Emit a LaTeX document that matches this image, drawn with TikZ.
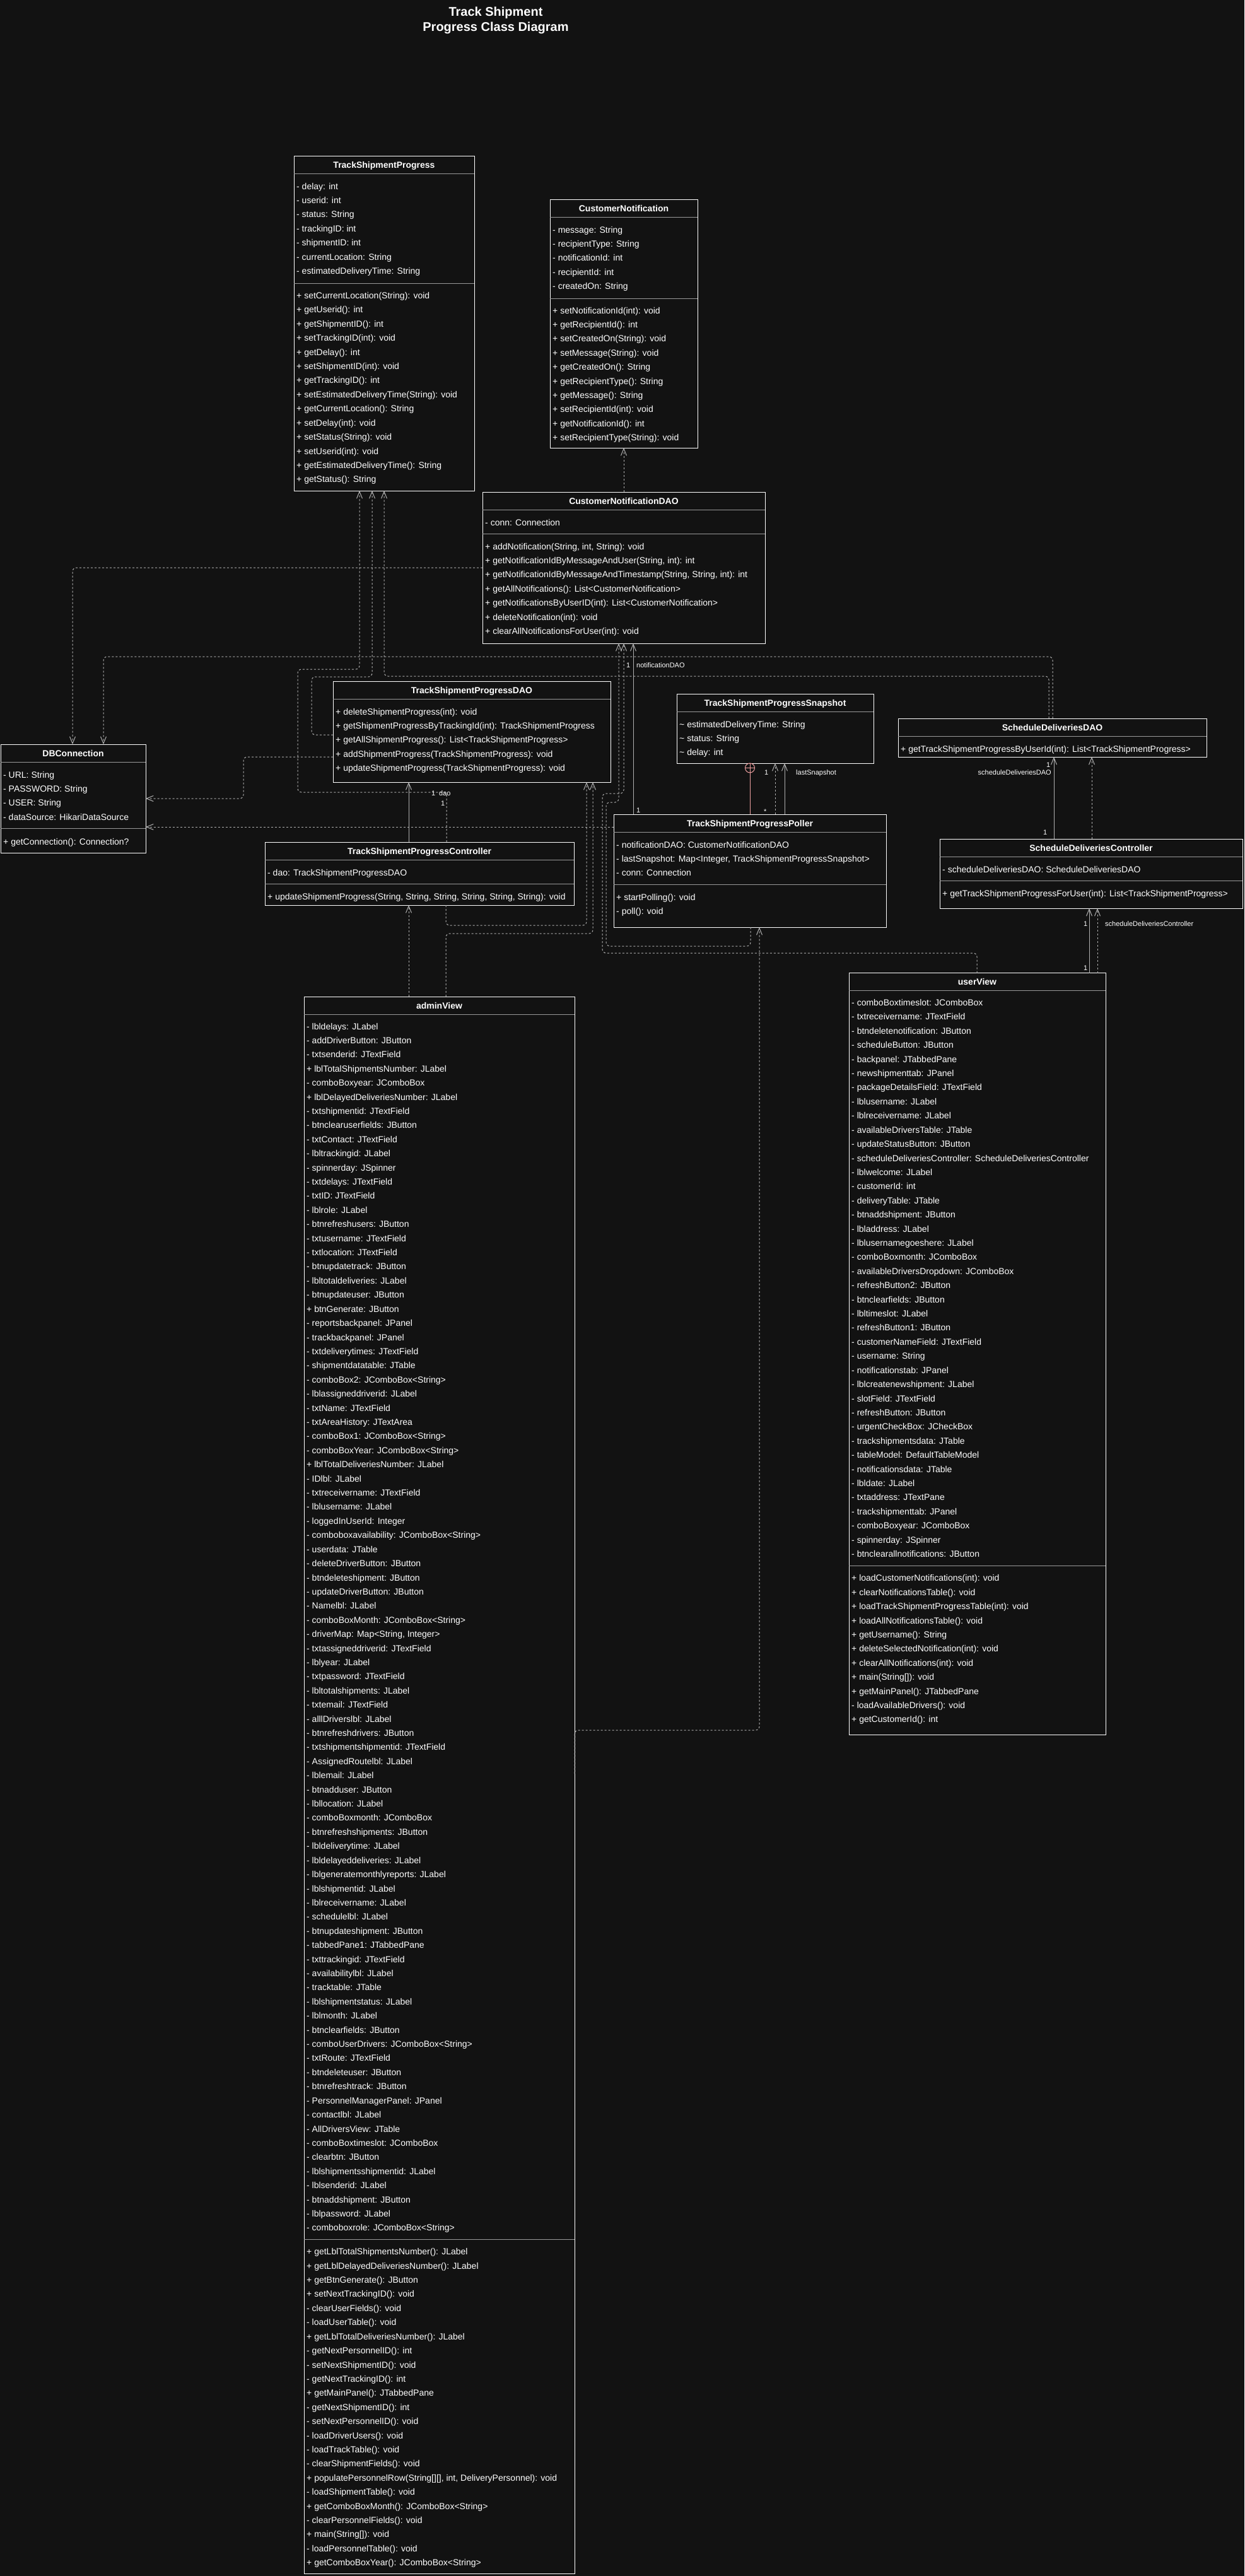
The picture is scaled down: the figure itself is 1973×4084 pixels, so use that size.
\documentclass[tikz,border=0pt]{standalone}
\usepackage{fontspec}
\setmainfont{Liberation Sans}
\usetikzlibrary{arrows.meta}

\definecolor{bg}{HTML}{121212}
\definecolor{edge}{HTML}{B0B0B0}
\definecolor{rule}{HTML}{999999}
\definecolor{nest}{HTML}{EFA0A0}

\tikzset{
  classbox/.style={draw=white, fill=bg, line width=1pt, inner sep=0pt, outer sep=0pt, anchor=north west},
  classtitle/.style={text=white, font=\fontsize{14}{16}\selectfont\bfseries, anchor=base, inner sep=0pt},
  member/.style={text=white, font=\fontsize{14}{16}\selectfont, anchor=base west, inner sep=0pt},
  divider/.style={draw=rule, line width=1pt},
  openhead/.style={-{Straight Barb[length=11pt,width=9pt]}},
  dep/.style={draw=edge, line width=1pt, dash pattern=on 3pt off 3pt, rounded corners=6pt, openhead},
  assoc/.style={draw=edge, line width=1pt, openhead},
  nested/.style={draw=nest, line width=1pt},
  elabel/.style={text=white, font=\fontsize{11}{13}\selectfont, inner sep=0pt, anchor=base west},
  bigtitle/.style={text=white, font=\fontsize{20}{24}\selectfont\bfseries, anchor=base, inner sep=0pt},
}

% class frame: name, left, top, right, bottom, title
\newcommand{\umlbox}[6]{%
  \node[classbox, minimum width={(#4-#2)*1pt}, minimum height={(#5-#3)*1pt}] (#1) at (#2,#3) {};
  \node[classtitle] (#1-title) at ({(#2+#4)/2},{#3+19}) {#6};
  \draw[divider] (#2,{#3+28}) -- (#4,{#3+28});
}
% compartment separator: left, right, y
\newcommand{\umlrule}[3]{\draw[divider] (#1,#3) -- (#2,#3);}
% member rows: prefix, x, first baseline, items
\newcommand{\umlrows}[4]{%
  \foreach \t [count=\i] in {#4} {\node[member] (#1-\i) at (#2,{#3+(\i-1)*22.41}) {\t};}
}

\begin{document}
\begin{tikzpicture}[x=1pt,y=-1pt]
\useasboundingbox (0,0) rectangle (1973,4084);
\fill[bg] (0,0) rectangle (1973,4084);

% heading
\node[bigtitle] (title-a) at (786,26) {Track Shipment};
\node[bigtitle] (title-b) at (786,50) {Progress Class Diagram};

% ---------- TrackShipmentProgress
\umlbox{tsp}{466}{247}{752}{778}{TrackShipmentProgress}
\umlrows{tsp-a}{470}{300}{{- delay: int},{- userid: int},{- status: String},{- trackingID: int},{- shipmentID: int},{- currentLocation: String},{- estimatedDeliveryTime: String}}
\umlrule{466}{752}{449}
\umlrows{tsp-m}{470}{473.5}{{+ setCurrentLocation(String): void},{+ getUserid(): int},{+ getShipmentID(): int},{+ setTrackingID(int): void},{+ getDelay(): int},{+ setShipmentID(int): void},{+ getTrackingID(): int},{+ setEstimatedDeliveryTime(String): void},{+ getCurrentLocation(): String},{+ setDelay(int): void},{+ setStatus(String): void},{+ setUserid(int): void},{+ getEstimatedDeliveryTime(): String},{+ getStatus(): String}}

% ---------- CustomerNotification
\umlbox{cn}{872}{316}{1106}{710}{CustomerNotification}
\umlrows{cn-a}{876}{369}{{- message: String},{- recipientType: String},{- notificationId: int},{- recipientId: int},{- createdOn: String}}
\umlrule{872}{1106}{473}
\umlrows{cn-m}{876}{497}{{+ setNotificationId(int): void},{+ getRecipientId(): int},{+ setCreatedOn(String): void},{+ setMessage(String): void},{+ getCreatedOn(): String},{+ getRecipientType(): String},{+ getMessage(): String},{+ setRecipientId(int): void},{+ getNotificationId(): int},{+ setRecipientType(String): void}}

% ---------- CustomerNotificationDAO
\umlbox{cndao}{765}{780}{1213}{1020}{CustomerNotificationDAO}
\umlrows{cndao-a}{769}{833}{{- conn: Connection}}
\umlrule{765}{1213}{846.5}
\umlrows{cndao-m}{769}{871}{{+ addNotification(String, int, String): void},{+ getNotificationIdByMessageAndUser(String, int): int},{+ getNotificationIdByMessageAndTimestamp(String, String, int): int},{+ getAllNotifications(): List<CustomerNotification>},{+ getNotificationsByUserID(int): List<CustomerNotification>},{+ deleteNotification(int): void},{+ clearAllNotificationsForUser(int): void}}

% ---------- DBConnection
\umlbox{db}{1}{1180}{231}{1352}{DBConnection}
\umlrows{db-a}{5}{1233}{{- URL: String},{- PASSWORD: String},{- USER: String},{- dataSource: HikariDataSource}}
\umlrule{1}{231}{1313.5}
\umlrows{db-m}{5}{1339}{{+ getConnection(): Connection?}}

% ---------- TrackShipmentProgressDAO
\umlbox{tspdao}{528}{1080}{968}{1240}{TrackShipmentProgressDAO}
\umlrows{tspdao-m}{532}{1133}{{+ deleteShipmentProgress(int): void},{+ getShipmentProgressByTrackingId(int): TrackShipmentProgress},{+ getAllShipmentProgress(): List<TrackShipmentProgress>},{+ addShipmentProgress(TrackShipmentProgress): void},{+ updateShipmentProgress(TrackShipmentProgress): void}}

% ---------- TrackShipmentProgressSnapshot
\umlbox{snap}{1073}{1100}{1385}{1210}{TrackShipmentProgressSnapshot}
\umlrows{snap-a}{1077}{1153}{{\textasciitilde{} estimatedDeliveryTime: String},{\textasciitilde{} status: String},{\textasciitilde{} delay: int}}

% ---------- ScheduleDeliveriesDAO
\umlbox{sddao}{1424}{1139}{1913}{1200}{ScheduleDeliveriesDAO}
\umlrows{sddao-m}{1428}{1192}{{+ getTrackShipmentProgressByUserId(int): List<TrackShipmentProgress>}}

% ---------- TrackShipmentProgressPoller
\umlbox{poller}{973}{1291}{1405}{1470}{TrackShipmentProgressPoller}
\umlrows{poller-a}{977}{1344}{{- notificationDAO: CustomerNotificationDAO},{- lastSnapshot: Map<Integer, TrackShipmentProgressSnapshot>},{- conn: Connection}}
\umlrule{973}{1405}{1402}
\umlrows{poller-m}{977}{1427}{{+ startPolling(): void},{- poll(): void}}

% ---------- ScheduleDeliveriesController
\umlbox{sdc}{1490}{1330}{1970}{1440}{ScheduleDeliveriesController}
\umlrows{sdc-a}{1494}{1383}{{- scheduleDeliveriesDAO: ScheduleDeliveriesDAO}}
\umlrule{1490}{1970}{1396.5}
\umlrows{sdc-m}{1494}{1421.5}{{+ getTrackShipmentProgressForUser(int): List<TrackShipmentProgress>}}

% ---------- TrackShipmentProgressController
\umlbox{tspc}{420}{1335}{910}{1435}{TrackShipmentProgressController}
\umlrows{tspc-a}{424}{1388}{{- dao: TrackShipmentProgressDAO}}
\umlrule{420}{910}{1401}
\umlrows{tspc-m}{424}{1426}{{+ updateShipmentProgress(String, String, String, String, String, String): void}}

% ---------- userView
\umlbox{user}{1346}{1542.5}{1753}{2750}{userView}
\umlrows{user-a}{1350}{1594.5}{{- comboBoxtimeslot: JComboBox},{- txtreceivername: JTextField},{- btndeletenotification: JButton},{- scheduleButton: JButton},{- backpanel: JTabbedPane},{- newshipmenttab: JPanel},{- packageDetailsField: JTextField},{- lblusername: JLabel},{- lblreceivername: JLabel},{- availableDriversTable: JTable},{- updateStatusButton: JButton},{- scheduleDeliveriesController: ScheduleDeliveriesController},{- lblwelcome: JLabel},{- customerId: int},{- deliveryTable: JTable},{- btnaddshipment: JButton},{- lbladdress: JLabel},{- lblusernamegoeshere: JLabel},{- comboBoxmonth: JComboBox},{- availableDriversDropdown: JComboBox},{- refreshButton2: JButton},{- btnclearfields: JButton},{- lbltimeslot: JLabel},{- refreshButton1: JButton},{- customerNameField: JTextField},{- username: String},{- notificationstab: JPanel},{- lblcreatenewshipment: JLabel},{- slotField: JTextField},{- refreshButton: JButton},{- urgentCheckBox: JCheckBox},{- trackshipmentsdata: JTable},{- tableModel: DefaultTableModel},{- notificationsdata: JTable},{- lbldate: JLabel},{- txtaddress: JTextPane},{- trackshipmenttab: JPanel},{- comboBoxyear: JComboBox},{- spinnerday: JSpinner},{- btnclearallnotifications: JButton}}
\umlrule{1346}{1753}{2482.7}
\umlrows{user-m}{1350}{2506.8}{{+ loadCustomerNotifications(int): void},{+ clearNotificationsTable(): void},{+ loadTrackShipmentProgressTable(int): void},{+ loadAllNotificationsTable(): void},{+ getUsername(): String},{+ deleteSelectedNotification(int): void},{+ clearAllNotifications(int): void},{+ main(String[]): void},{+ getMainPanel(): JTabbedPane},{- loadAvailableDrivers(): void},{+ getCustomerId(): int}}

% ---------- adminView
\umlbox{admin}{482}{1580}{911}{4080}{adminView}
\umlrows{admin-a}{486}{1632}{{- lbldelays: JLabel},{- addDriverButton: JButton},{- txtsenderid: JTextField},{+ lblTotalShipmentsNumber: JLabel},{- comboBoxyear: JComboBox},{+ lblDelayedDeliveriesNumber: JLabel},{- txtshipmentid: JTextField},{- btnclearuserfields: JButton},{- txtContact: JTextField},{- lbltrackingid: JLabel},{- spinnerday: JSpinner},{- txtdelays: JTextField},{- txtID: JTextField},{- lblrole: JLabel},{- btnrefreshusers: JButton},{- txtusername: JTextField},{- txtlocation: JTextField},{- btnupdatetrack: JButton},{- lbltotaldeliveries: JLabel},{- btnupdateuser: JButton},{+ btnGenerate: JButton},{- reportsbackpanel: JPanel},{- trackbackpanel: JPanel},{- txtdeliverytimes: JTextField},{- shipmentdatatable: JTable},{- comboBox2: JComboBox<String>},{- lblassigneddriverid: JLabel},{- txtName: JTextField},{- txtAreaHistory: JTextArea},{- comboBox1: JComboBox<String>},{- comboBoxYear: JComboBox<String>},{+ lblTotalDeliveriesNumber: JLabel},{- IDlbl: JLabel},{- txtreceivername: JTextField},{- lblusername: JLabel},{- loggedInUserId: Integer},{- comboboxavailability: JComboBox<String>},{- userdata: JTable},{- deleteDriverButton: JButton},{- btndeleteshipment: JButton},{- updateDriverButton: JButton},{- Namelbl: JLabel},{- comboBoxMonth: JComboBox<String>},{- driverMap: Map<String, Integer>},{- txtassigneddriverid: JTextField},{- lblyear: JLabel},{- txtpassword: JTextField},{- lbltotalshipments: JLabel},{- txtemail: JTextField},{- alllDriverslbl: JLabel},{- btnrefreshdrivers: JButton},{- txtshipmentshipmentid: JTextField},{- AssignedRoutelbl: JLabel},{- lblemail: JLabel},{- btnadduser: JButton},{- lbllocation: JLabel},{- comboBoxmonth: JComboBox},{- btnrefreshshipments: JButton},{- lbldeliverytime: JLabel},{- lbldelayeddeliveries: JLabel},{- lblgeneratemonthlyreports: JLabel},{- lblshipmentid: JLabel},{- lblreceivername: JLabel},{- schedulelbl: JLabel},{- btnupdateshipment: JButton},{- tabbedPane1: JTabbedPane},{- txttrackingid: JTextField},{- availabilitylbl: JLabel},{- tracktable: JTable},{- lblshipmentstatus: JLabel},{- lblmonth: JLabel},{- btnclearfields: JButton},{- comboUserDrivers: JComboBox<String>},{- txtRoute: JTextField},{- btndeleteuser: JButton},{- btnrefreshtrack: JButton},{- PersonnelManagerPanel: JPanel},{- contactlbl: JLabel},{- AllDriversView: JTable},{- comboBoxtimeslot: JComboBox},{- clearbtn: JButton},{- lblshipmentsshipmentid: JLabel},{- lblsenderid: JLabel},{- btnaddshipment: JButton},{- lblpassword: JLabel},{- comboboxrole: JComboBox<String>}}
\umlrule{482}{911}{3550.5}
\umlrows{admin-m}{486}{3574.7}{{+ getLblTotalShipmentsNumber(): JLabel},{+ getLblDelayedDeliveriesNumber(): JLabel},{+ getBtnGenerate(): JButton},{+ setNextTrackingID(): void},{- clearUserFields(): void},{- loadUserTable(): void},{+ getLblTotalDeliveriesNumber(): JLabel},{- getNextPersonnelID(): int},{- setNextShipmentID(): void},{- getNextTrackingID(): int},{+ getMainPanel(): JTabbedPane},{- getNextShipmentID(): int},{- setNextPersonnelID(): void},{- loadDriverUsers(): void},{- loadTrackTable(): void},{- clearShipmentFields(): void},{+ populatePersonnelRow(String[][], int, DeliveryPersonnel): void},{- loadShipmentTable(): void},{+ getComboBoxMonth(): JComboBox<String>},{- clearPersonnelFields(): void},{+ main(String[]): void},{- loadPersonnelTable(): void},{+ getComboBoxYear(): JComboBox<String>}}

% ================= connectors =================
% DAO -> entity
\draw[dep] ([xshift=224pt]cndao.north west) -- ([xshift=117pt]cn.south west);
% DAOs -> DBConnection
\draw[dep] ([yshift=-120pt]cndao.north west) -| ([xshift=114pt]db.north west);
\draw[dep] ([xshift=245pt]sddao.north west) |- (164,1041) -- ([xshift=163pt]db.north west);
\draw[dep] ([yshift=-120pt]tspdao.north west) -| (386,1266) -- ([yshift=-86pt]db.north east);
\draw[dep] ([yshift=-20pt]poller.north west) -- ([yshift=-131pt]db.north east);
% users of TrackShipmentProgress
\draw[dep] ([xshift=239pt]sddao.north west) |- (609,1072) -- ([xshift=143pt]tsp.south west);
\draw[dep] ([yshift=-85pt]tspdao.north west) -| (494,1073) -| ([xshift=124pt]tsp.south west);
\draw[dep] ([xshift=288pt]tspc.north west) |- (472,1256) |- (570,1061) -- ([xshift=104pt]tsp.south west);
% controller <-> DAO
\draw[assoc] ([xshift=228pt]tspc.north west) -- ([xshift=120pt]tspdao.south west);
\node[elabel] (l-dao1) at (684,1261) {1};
\node[elabel] (l-dao) at (696,1261) {dao};
\node[elabel] (l-dao2) at (699,1277) {1};
\draw[dep] ([xshift=287pt]tspc.south west) |- (930,1467) -- ([xshift=402pt]tspdao.south west);
% adminView dependencies
\draw[dep] ([xshift=166pt]admin.north west) -- ([xshift=228pt]tspc.south west);
\draw[dep] ([xshift=225pt]admin.north west) |- (940,1480) -- ([xshift=412pt]tspdao.south west);
\draw[dep] ([yshift=-1232pt]admin.north east) |- (1204,2743) -- ([xshift=231pt]poller.south west);
% poller -> notification DAO
\draw[assoc] ([xshift=31pt]poller.north west) -- ([xshift=239pt]cndao.south west);
\node[elabel] (l-nd1) at (993,1058) {1};
\node[elabel] (l-nd) at (1009,1058) {notificationDAO};
\node[elabel] (l-nd2) at (1009,1288) {1};
\draw[dep] ([xshift=217pt]poller.south west) |- (961,1500) |- (981,1272) -- ([xshift=216pt]cndao.south west);
\draw[dep] ([xshift=203pt]user.north west) |- (955,1511) |- (989,1258) -- ([xshift=224pt]cndao.south west);
% poller -> snapshot
\coordinate (nestc) at ([xshift=116pt,yshift=-7.5pt]snap.south west);
\draw[nested] ([xshift=216pt]poller.north west) -- ([yshift=-7.5pt]nestc);
\draw[nested] (nestc) circle[radius=7.5pt];
\draw[nested] ([xshift=-7.5pt]nestc) -- ([xshift=7.5pt]nestc);
\draw[nested] ([yshift=7.5pt]nestc) -- ([yshift=-7.5pt]nestc);
\draw[dep] ([xshift=256pt]poller.north west) -- ([xshift=156pt]snap.south west);
\node[elabel] (l-s1) at (1212,1228) {1};
\node[elabel] (l-s2) at (1211,1290) {*};
\draw[assoc] ([xshift=271pt]poller.north west) -- ([xshift=171pt]snap.south west);
\node[elabel] (l-ls) at (1262,1228) {lastSnapshot};
% schedule deliveries
\draw[assoc] ([xshift=181pt]sdc.north west) -- ([xshift=247pt]sddao.south west);
\node[elabel] (l-sd1) at (1659,1216) {1};
\node[elabel, anchor=base east] (l-sd) at (1667,1228) {scheduleDeliveriesDAO};
\node[elabel] (l-sd2) at (1654,1323) {1};
\draw[dep] ([xshift=241pt]sdc.north west) -- ([xshift=307pt]sddao.south west);
\draw[assoc] ([xshift=381pt]user.north west) -- ([xshift=237pt]sdc.south west);
\node[elabel] (l-sc1) at (1718,1468) {1};
\node[elabel] (l-sc) at (1752,1468) {scheduleDeliveriesController};
\node[elabel] (l-sc2) at (1718,1538) {1};
\draw[dep] ([xshift=394pt]user.north west) -- ([xshift=250pt]sdc.south west);
\end{tikzpicture}
\end{document}
